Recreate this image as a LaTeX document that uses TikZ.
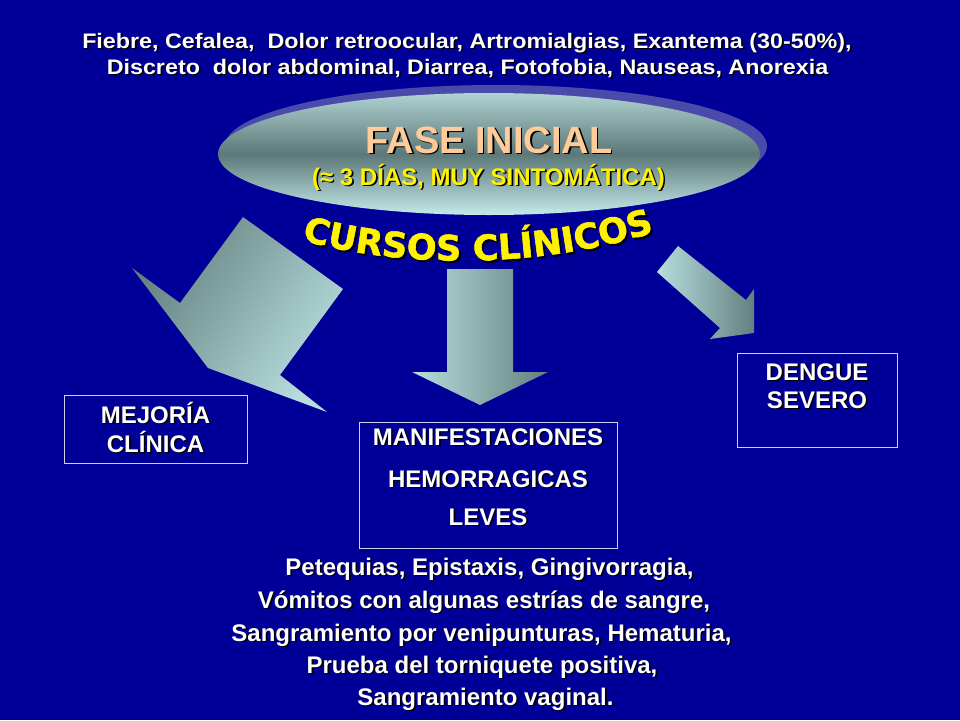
\documentclass[tikz,border=0pt]{standalone}
\usepackage{fontspec}
\setmainfont{Liberation Sans}
\newfontfamily\curfont[BoldFeatures={FakeBold=1.6}]{DejaVu Sans}
\usetikzlibrary{decorations.text,shapes.geometric}
\definecolor{bg}{RGB}{0,0,153}
\definecolor{alight}{RGB}{184,222,222}
\definecolor{adark}{RGB}{100,128,128}
\definecolor{emid}{RGB}{92,120,120}
\definecolor{etop}{RGB}{176,210,210}
\definecolor{ebot}{RGB}{196,234,234}
\definecolor{eshadow}{RGB}{74,74,170}
\definecolor{peach}{RGB}{255,204,153}
\definecolor{boxline}{RGB}{210,210,235}
\newcommand\cursfont{\curfont\bfseries\fontsize{35}{35}\selectfont}
\newcommand\stxt[4]{%
  \node[#3, text=black] (#1sh) at ([shift={(1.6,1.6)}]#2) {#4};
  \node[#3] (#1) at (#2) {#4};
}
\tikzset{
  txt/.style={inner sep=0pt, anchor=base, text=white, font=\bfseries\fontsize{24}{24}\selectfont},
  toptxt/.style={txt, font=\bfseries\fontsize{21}{21}\selectfont},
  boxst/.style={draw=boxline, line width=1pt, inner sep=0pt},
}
\begin{document}
\begin{tikzpicture}[x=1pt,y=-1pt]
\fill[bg] (0,0) rectangle (960,720);
\useasboundingbox (0,0) rectangle (960,720);

% top text
\stxt{top1}{467,48}{toptxt}{\scalebox{1.11}[1]{Fiebre, Cefalea,\ \ Dolor retroocular, Artromialgias, Exantema (30-50\%),}}
\stxt{top2}{467.5,74}{toptxt}{\scalebox{1.11}[1]{Discreto\ \ dolor abdominal, Diarrea, Fotofobia, Nauseas, Anorexia}}

% ellipse
\node[ellipse, fill=eshadow, minimum width=542pt, minimum height=122pt, inner sep=0pt] (faseshadow) at (496,146) {};
\node[ellipse, top color=etop, bottom color=ebot, middle color=emid, minimum width=542pt, minimum height=122pt, inner sep=0pt] (fase) at (489,154) {};
\stxt{fase1}{489,153}{txt, text=peach, font=\bfseries\fontsize{38}{38}\selectfont}{FASE INICIAL}
\stxt{fase2}{488.5,185}{txt, text=yellow}{(≈ 3 DÍAS, MUY SINTOMÁTICA)}

% cursos clinicos
\path[decorate, decoration={text along path, text={|\cursfont|CURSOS CLÍNICOS}, text align=center, text color=black}]
  (300,241) .. controls (402,271) and (542,271) .. (660,233);
\path[decorate, decoration={text along path, text={|\cursfont|CURSOS CLÍNICOS}, text align=center, text color=yellow}]
  (298,239) .. controls (400,269) and (540,269) .. (658,231);

% block arrows
\shade[top color=adark, bottom color=alight, shading angle=55]
  (132,268) -- (180,303) -- (243,217) -- (343,289) -- (280,375) -- (327,412) -- (208,368) -- cycle;
\shade[left color=alight, right color=adark]
  (447,269) -- (513,269) -- (513,372) -- (548,372) -- (480,405) -- (412,372) -- (447,372) -- cycle;
\shade[left color=alight, right color=adark]
  (678,246) -- (746,300) -- (754,289) -- (754,333) -- (710,339) -- (720,328) -- (657,272) -- cycle;

% boxes
\node[boxst, minimum width=183pt, minimum height=68pt] (mej) at (155.5,429) {};
\stxt{mej1}{155.5,423}{txt}{MEJORÍA}
\stxt{mej2}{155.5,452}{txt}{CLÍNICA}

\node[boxst, minimum width=160pt, minimum height=94pt] (den) at (817,400) {};
\stxt{den1}{817,380}{txt}{DENGUE}
\stxt{den2}{817,408}{txt}{SEVERO}

\node[boxst, minimum width=258pt, minimum height=126pt] (man) at (488,485) {};
\stxt{man1}{488,445}{txt}{MANIFESTACIONES}
\stxt{man2}{488,487}{txt}{HEMORRAGICAS}
\stxt{man3}{488,525}{txt}{LEVES}

% bottom text
\stxt{b1}{489.5,575}{txt}{Petequias, Epistaxis, Gingivorragia,}
\stxt{b2}{484,608}{txt}{Vómitos con algunas estrías de sangre,}
\stxt{b3}{481.5,641}{txt}{Sangramiento por venipunturas, Hematuria,}
\stxt{b4}{482,673}{txt}{Prueba del torniquete positiva,}
\stxt{b5}{485.5,705}{txt}{Sangramiento vaginal.}
\end{tikzpicture}
\end{document}
